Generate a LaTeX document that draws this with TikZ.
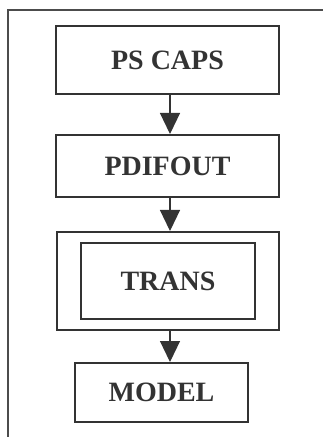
\documentclass[tikz,border=0pt]{standalone}
\usepackage{fontspec}
\setmainfont{Liberation Serif}
\usepackage{tikz}
\usetikzlibrary{positioning,arrows.meta}
\tikzset{
	flowstyle/.style={
		x=0.5pt,
		y=-0.5pt,
		line join=miter,
		draw=black!80,
		font=\fontsize{14}{16}\selectfont\bfseries}}

\begin{document}
\begin{tikzpicture}[flowstyle,
	box/.style={draw=black!80, line width=1pt, inner sep=0pt, text=black!80},
	arr/.style={draw=black!80, line width=0.6pt, -{Triangle[width=10pt,length=10.5pt]}},
	]

	\useasboundingbox (0,0) rectangle (323,437);

	% frame, only left and top edges show
	\draw[line width=1pt, black!70] (8,437) -- (8,10) -- (323,10);

	\node[box, minimum width=111.5pt, minimum height=34pt] (caps) at (167.5,60) {PS CAPS};
	\node[box, minimum width=111.5pt, minimum height=31pt] (pdif) at (167.5,166) {PDIFOUT};
	\node[box, minimum width=111pt, minimum height=49pt] (transout) at (168,281) {};
	\node[box, minimum width=87pt, minimum height=38pt] (trans) at (168,281) {TRANS};
	\node[box, minimum width=86.5pt, minimum height=29.5pt] (model) at (161.5,392.5) {MODEL};

	\coordinate (c1) at ([xshift=1.25pt]caps.south);
	\coordinate (c2) at ([xshift=1.25pt]pdif.south);
	\coordinate (c3) at ([xshift=1pt]transout.south);

	\draw[arr] (c1) -- (c1 |- pdif.north);
	\draw[arr] (c2) -- (c2 |- transout.north);
	\draw[arr] (c3) -- (c3 |- model.north);

\end{tikzpicture}
\end{document}
